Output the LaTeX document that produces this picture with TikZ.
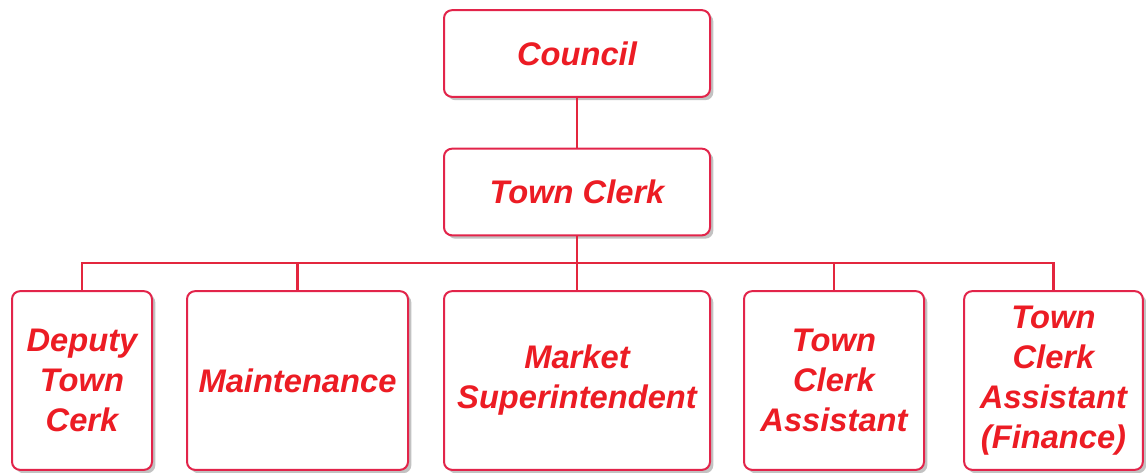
\documentclass[tikz,border=0pt]{standalone}
\usepackage{fontspec}
\setmainfont{Liberation Sans}
\usetikzlibrary{shadows}
\definecolor{txtred}{HTML}{EC1C24}
\definecolor{edgered}{HTML}{E2244A}
\definecolor{linkred}{HTML}{E3263E}
\begin{document}
\begin{tikzpicture}[x=0.75pt,y=-0.75pt,
    orgbox/.style={draw=edgered,line width=1.5pt,rounded corners=6pt,fill=white,
        drop shadow={shadow xshift=2.5pt,shadow yshift=-2.5pt,fill=black!40,opacity=0.6},
        text=txtred,align=center,inner sep=0pt,
        font=\fontsize{24.5}{30}\selectfont\bfseries\itshape},
    link/.style={draw=linkred,line width=1.9pt}]
    \useasboundingbox (0,0) rectangle (1146,472);
    % top of the chart
    \node[orgbox,minimum width=199.5pt,minimum height=65pt] (council) at (577,53.5) {Council};
    \node[orgbox,minimum width=199.5pt,minimum height=65pt] (clerk) at (577,192) {Town Clerk};
    % staff row
    \node[orgbox,minimum width=105pt,minimum height=134pt] (deputy) at (82,380.5) {Deputy\\Town\\Cerk};
    \node[orgbox,minimum width=165.75pt,minimum height=134pt] (maint) at (297.5,380.5) {Maintenance};
    \node[orgbox,minimum width=199.5pt,minimum height=134pt] (market) at (577,380.5) {Market\\Superintendent};
    \node[orgbox,minimum width=135pt,minimum height=134pt] (assist) at (834,380.5) {Town\\Clerk\\Assistant};
    \node[orgbox,minimum width=134pt,minimum height=134pt] (finance) at (1053.5,380.5) {Town\\Clerk\\Assistant\\(Finance)};
    \coordinate (bus) at (577,263);
    \begin{scope}[on background layer/.try]
    \draw[link] (council) -- (clerk);
    \draw[link] (clerk) -- (market);
    \foreach \n in {deputy,maint,assist,finance}
        \draw[link] (bus) -| (\n.north);
    \end{scope}
\end{tikzpicture}
\end{document}
